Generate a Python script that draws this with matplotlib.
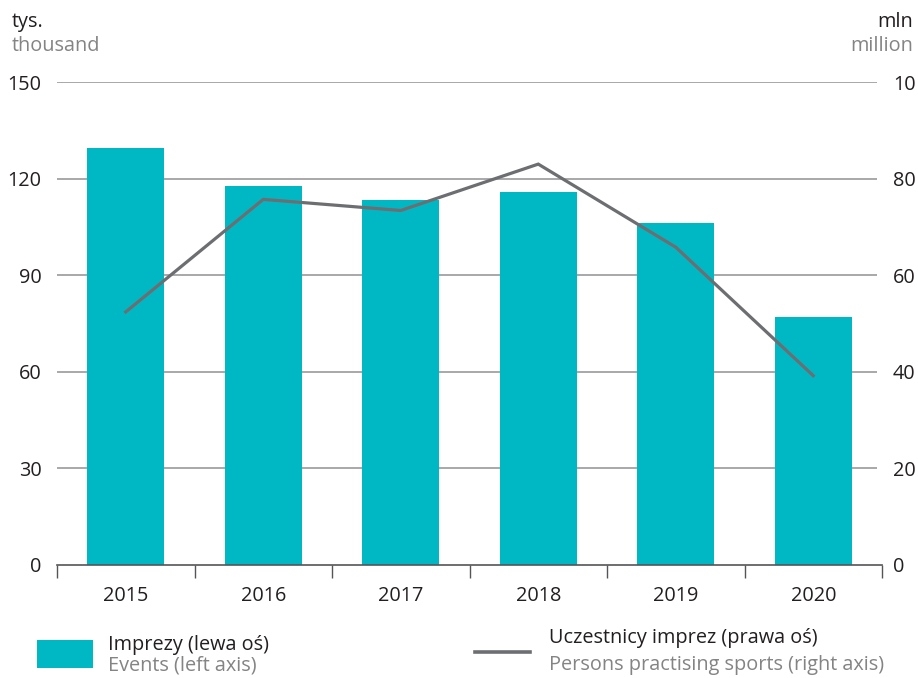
import matplotlib
matplotlib.use("Agg")
import matplotlib.pyplot as plt
from matplotlib.patches import Rectangle
from matplotlib.lines import Line2D
import numpy as np

plt.rcParams['font.family'] = ['Open Sans', 'DejaVu Sans']

years = ["2015", "2016", "2017", "2018", "2019", "2020"]
events_thousand = [129.5, 117.7, 113.4, 115.8, 106.2, 77.0]
participants_million = [52.4, 75.7, 73.4, 83.0, 65.8, 39.2]

left_ticks = [0, 30, 60, 90, 120, 150]
right_ticks = [0, 20, 40, 60, 80, 100]
right_tick_labels = ["0", "20", "40", "60", "80", "10"]

BAR = "#00b8c4"
LINE = "#6d6e71"
GRID = "#9a9a9c"
AXIS = "#555557"
DARK = "#231f20"
GRAY = "#848484"
FS = 14.3

W, H = 918, 678
fig = plt.figure(figsize=(W / 100, H / 100), dpi=100)
ax = fig.add_axes([57 / W, 1 - 565 / H, (882 - 57) / W, (565 - 82) / H])

x = np.arange(len(years))
ax.bar(x, events_thousand, width=0.56, color=BAR, zorder=2)
ax.set_xlim(-0.5, len(years) - 0.5)
ax.set_ylim(0, 150)
ax.set_yticks(left_ticks)
ax.set_yticklabels([str(t) for t in left_ticks], fontsize=FS, color=DARK)
ax.tick_params(axis='y', length=0, pad=11)
# horizontal gridlines stop a little short of the right edge
for t in left_ticks[1:]:
    ax.hlines(t, -0.5, len(years) - 0.5 - 5 / 137.5, color=GRID, linewidth=1.2, zorder=0)

ax.set_xticks(x)
ax.set_xticklabels(years, fontsize=FS, color=DARK)
ax.set_xticks(np.arange(-0.5, len(years)), minor=True)
ax.tick_params(axis='x', which='major', length=0, pad=15)
ax.tick_params(axis='x', which='minor', length=9, width=1, color=AXIS, direction='out')

for s in ['top', 'right', 'left']:
    ax.spines[s].set_visible(False)
ax.spines['bottom'].set_color(AXIS)
ax.spines['bottom'].set_linewidth(1.2)
ax.spines['bottom'].set_zorder(4)

ax2 = ax.twinx()
ax2.plot(x, participants_million, color=LINE, linewidth=2.3, zorder=3,
         solid_joinstyle='miter')
ax2.set_ylim(0, 100)
ax2.set_yticks(right_ticks)
ax2.set_yticklabels(right_tick_labels, fontsize=FS, color=DARK)
ax2.tick_params(axis='y', length=0, pad=8)
for s in ax2.spines.values():
    s.set_visible(False)

# axis unit captions
fig.text(12 / W, 1 - 27 / H, "tys.", fontsize=FS, color=DARK, ha='left', va='baseline')
fig.text(12 / W, 1 - 51 / H, "thousand", fontsize=FS, color=GRAY, ha='left', va='baseline')
fig.text(913 / W, 1 - 27 / H, "mln", fontsize=FS, color=DARK, ha='right', va='baseline')
fig.text(913 / W, 1 - 51 / H, "million", fontsize=FS, color=GRAY, ha='right', va='baseline')

# legend
fig.add_artist(Rectangle((37 / W, 1 - 668 / H), (93 - 37) / W, (668 - 640) / H,
                         transform=fig.transFigure, facecolor=BAR, edgecolor='none'))
fig.text(108 / W, 1 - 650 / H, "Imprezy (lewa oś)", fontsize=FS, color=DARK,
         ha='left', va='baseline')
fig.text(108 / W, 1 - 671 / H, "Events (left axis)", fontsize=FS, color=GRAY,
         ha='left', va='baseline')
fig.add_artist(Line2D([475 / W, 530 / W], [1 - 652 / H, 1 - 652 / H],
                      transform=fig.transFigure, color=LINE, linewidth=2.6))
fig.text(549 / W, 1 - 643 / H, "Uczestnicy imprez (prawa oś)", fontsize=FS, color=DARK,
         ha='left', va='baseline')
fig.text(549 / W, 1 - 670 / H, "Persons practising sports (right axis)", fontsize=FS,
         color=GRAY, ha='left', va='baseline')

fig.savefig("out.png", dpi=100)
